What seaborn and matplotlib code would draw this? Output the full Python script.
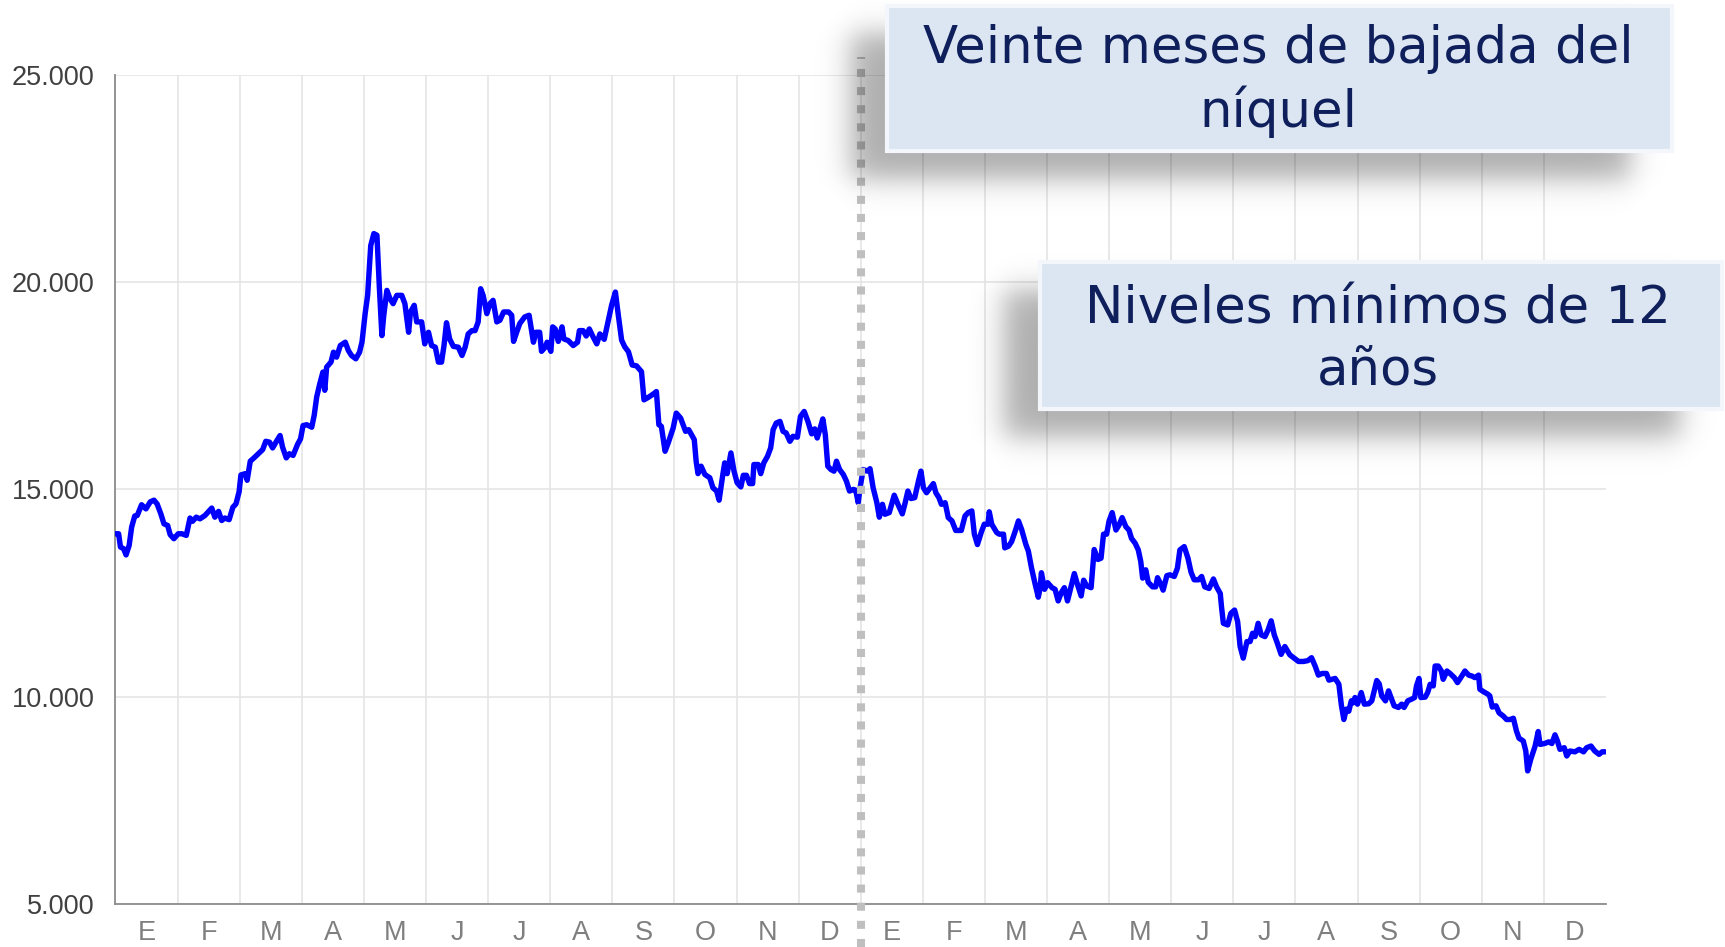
import numpy as np
import pandas as pd
import seaborn as sns
import matplotlib
matplotlib.use("Agg")
from matplotlib import pyplot as plt
from matplotlib.patches import Rectangle
from matplotlib.ticker import FuncFormatter, MultipleLocator, FixedLocator, NullFormatter

# posición en meses desde el inicio (0 = 1 de enero del primer año)
mes = [
    0.00, 0.05, 0.08, 0.13, 0.17, 0.22, 0.26, 0.31, 0.35, 0.42, 0.49, 0.56, 0.62, 0.67, 0.73, 0.78, 0.84, 0.88, 0.94,
    1.01, 1.07, 1.14, 1.20, 1.24, 1.30, 1.36, 1.44, 1.55, 1.60, 1.66, 1.71, 1.76, 1.83, 1.89, 1.94, 1.99,
    2.02, 2.09, 2.12, 2.17, 2.23, 2.30, 2.37, 2.42, 2.48, 2.53, 2.60, 2.65, 2.69, 2.75, 2.80, 2.86, 2.93, 2.98,
    3.02, 3.08, 3.16, 3.20, 3.24, 3.29, 3.34, 3.37, 3.40, 3.47, 3.51, 3.56, 3.62, 3.70, 3.75, 3.80, 3.87, 3.93, 3.97,
    4.02, 4.06, 4.11, 4.16, 4.21, 4.25, 4.29, 4.32, 4.37, 4.42, 4.47, 4.53, 4.61, 4.66, 4.72, 4.75, 4.81, 4.85, 4.93, 4.98,
    5.04, 5.09, 5.15, 5.20, 5.25, 5.29, 5.33, 5.38, 5.44, 5.52, 5.58, 5.63, 5.68, 5.74, 5.79, 5.84, 5.88, 5.92, 5.98,
    6.03, 6.08, 6.14, 6.19, 6.25, 6.33, 6.38, 6.41, 6.46, 6.51, 6.59, 6.66, 6.73, 6.77, 6.83, 6.86, 6.92, 6.95,
    7.01, 7.04, 7.08, 7.13, 7.19, 7.22, 7.29, 7.37, 7.44, 7.47, 7.53, 7.58, 7.63, 7.68, 7.75, 7.80, 7.87, 7.94, 7.99,
    8.05, 8.09, 8.15, 8.20, 8.26, 8.32, 8.39, 8.47, 8.51, 8.58, 8.66, 8.71, 8.75, 8.79, 8.85, 8.90, 8.98,
    9.03, 9.10, 9.18, 9.23, 9.32, 9.35, 9.38, 9.43, 9.49, 9.57, 9.62, 9.68, 9.72, 9.78, 9.81, 9.85, 9.91, 9.96,
    10.01, 10.07, 10.11, 10.16, 10.21, 10.26, 10.28, 10.35, 10.39, 10.44, 10.50, 10.55, 10.59, 10.64, 10.70, 10.75,
    10.80, 10.86, 10.91, 10.98,
    11.03, 11.09, 11.15, 11.21, 11.26, 11.30, 11.34, 11.39, 11.43, 11.47, 11.52, 11.57, 11.61, 11.66, 11.72, 11.77,
    11.82, 11.88, 11.92, 11.96, 11.99,
    12.04, 12.11, 12.15, 12.20, 12.26, 12.30, 12.35, 12.39, 12.46, 12.54, 12.60, 12.67, 12.71, 12.76, 12.81, 12.87,
    12.93, 12.97,
    13.01, 13.06, 13.12, 13.17, 13.21, 13.26, 13.30, 13.36, 13.41, 13.47, 13.53, 13.62, 13.68, 13.73, 13.79, 13.83,
    13.88, 13.94, 13.99,
    14.05, 14.07, 14.11, 14.19, 14.23, 14.30, 14.32, 14.38, 14.43, 14.49, 14.54, 14.59, 14.66, 14.70, 14.75, 14.81,
    14.86, 14.89, 14.91, 14.96,
    15.01, 15.08, 15.13, 15.18, 15.23, 15.28, 15.33, 15.39, 15.44, 15.49, 15.55, 15.59, 15.64, 15.71, 15.76, 15.82,
    15.87, 15.91, 15.96,
    16.00, 16.05, 16.11, 16.16, 16.21, 16.27, 16.32, 16.36, 16.42, 16.47, 16.51, 16.54, 16.59, 16.63, 16.70, 16.75,
    16.78, 16.84, 16.87, 16.93, 16.98,
    17.05, 17.10, 17.14, 17.21, 17.27, 17.32, 17.37, 17.44, 17.49, 17.54, 17.61, 17.68, 17.73, 17.79, 17.81, 17.84,
    17.91, 17.96,
    18.02, 18.07, 18.11, 18.16, 18.22, 18.27, 18.31, 18.35, 18.40, 18.45, 18.51, 18.56, 18.61, 18.66, 18.70, 18.77,
    18.83, 18.91, 18.97,
    19.05, 19.13, 19.20, 19.26, 19.32, 19.37, 19.43, 19.50, 19.54, 19.64, 19.70, 19.74, 19.78, 19.82, 19.86, 19.90,
    19.93, 19.96,
    20.00, 20.06, 20.11, 20.18, 20.23, 20.27, 20.31, 20.35, 20.39, 20.45, 20.50, 20.54, 20.59, 20.66, 20.71, 20.75,
    20.81, 20.87, 20.92, 20.95, 20.99,
    21.02, 21.09, 21.13, 21.17, 21.22, 21.25, 21.30, 21.35, 21.38, 21.44, 21.49, 21.56, 21.61, 21.68, 21.73, 21.79,
    21.84, 21.89, 21.95, 21.97,
    22.03, 22.10, 22.13, 22.17, 22.23, 22.28, 22.35, 22.40, 22.46, 22.51, 22.56, 22.60, 22.67, 22.71, 22.74, 22.79,
    22.86, 22.91, 22.94,
    23.01, 23.08, 23.13, 23.18, 23.22, 23.26, 23.33, 23.37, 23.42, 23.50, 23.57, 23.64, 23.69, 23.76, 23.82, 23.89,
    23.94, 23.99,
]

# precio del níquel ($/t)
precio = [
    13930, 13930, 13610, 13570, 13420, 13650, 14090, 14360, 14370, 14630, 14530, 14700, 14740, 14650, 14410, 14170,
    14130, 13910, 13810,
    13930, 13930, 13890, 14310, 14230, 14330, 14290, 14370, 14550, 14330, 14470, 14250, 14310, 14270, 14570, 14650, 14940,
    15350, 15380, 15220, 15680, 15760, 15860, 15960, 16160, 16140, 16000, 16180, 16300, 16020, 15760, 15860, 15820,
    16080, 16220,
    16540, 16560, 16500, 16790, 17230, 17550, 17830, 17390, 17950, 18070, 18310, 18190, 18470, 18550, 18350, 18230,
    18150, 18310, 18560,
    19240, 19680, 20880, 21170, 21130, 19840, 18710, 19200, 19800, 19600, 19480, 19680, 19680, 19480, 18790, 19280,
    19440, 19040, 19040, 18510,
    18790, 18470, 18430, 18070, 18070, 18470, 19020, 18630, 18450, 18430, 18230, 18430, 18750, 18830, 18830, 19040,
    19840, 19680, 19240,
    19480, 19560, 19040, 19080, 19280, 19280, 19200, 18570, 18790, 19000, 19160, 19200, 18550, 18790, 18790, 18330,
    18430, 18550,
    18330, 18920, 18870, 18570, 18920, 18630, 18590, 18470, 18550, 18830, 18830, 18700, 18870, 18710, 18510, 18750,
    18620, 19100, 19450,
    19760, 19280, 18600, 18440, 18320, 18000, 17980, 17840, 17160, 17220, 17300, 17360, 16560, 16520, 15920, 16120, 16480,
    16840, 16720, 16400, 16440, 16200, 15680, 15380, 15560, 15360, 15280, 15040, 14960, 14740, 15360, 15640, 15380,
    15880, 15440,
    15160, 15060, 15340, 15340, 15140, 15140, 15600, 15600, 15380, 15640, 15800, 16000, 16440, 16600, 16640, 16400,
    16360, 16160, 16280, 16260,
    16760, 16880, 16640, 16340, 16460, 16240, 16440, 16700, 16320, 15560, 15480, 15440, 15680, 15480, 15360, 15200,
    14960, 15000, 14980, 14680, 15040,
    15480, 15440, 15500, 15040, 14680, 14330, 14640, 14400, 14440, 14860, 14640, 14410, 14640, 14960, 14780, 14800,
    15200, 15440,
    15040, 14920, 15040, 15140, 14920, 14800, 14640, 14680, 14320, 14240, 14010, 14010, 14360, 14440, 14480, 13920,
    13670, 13960, 14160,
    14160, 14460, 14160, 13960, 13920, 13920, 13590, 13630, 13740, 14000, 14240, 14040, 13670, 13510, 13110, 12710,
    12400, 12630, 12990, 12590,
    12750, 12630, 12590, 12310, 12510, 12630, 12310, 12670, 12970, 12710, 12430, 12810, 12670, 12630, 13550, 13310,
    13340, 13920, 13920,
    14240, 14440, 14020, 14140, 14320, 14100, 14020, 13820, 13700, 13540, 13260, 12860, 13060, 12760, 12650, 12650,
    12870, 12690, 12570, 12920, 12940,
    12900, 13100, 13540, 13620, 13340, 13000, 12820, 12820, 12900, 12650, 12610, 12840, 12650, 12490, 12170, 11770,
    11730, 12010,
    12090, 11810, 11210, 10930, 11330, 11330, 11530, 11450, 11770, 11490, 11450, 11610, 11830, 11490, 11330, 11020,
    11210, 11010, 10940,
    10850, 10850, 10870, 10940, 10730, 10520, 10560, 10560, 10400, 10440, 10300, 9800, 9450, 9700, 9650, 9900,
    9850, 9980,
    9820, 10100, 9820, 9830, 9900, 10140, 10390, 10310, 10020, 9900, 10140, 9980, 9780, 9740, 9820, 9740,
    9900, 9940, 9980, 10260, 10440,
    9980, 9990, 10100, 10300, 10260, 10740, 10740, 10620, 10420, 10620, 10560, 10460, 10340, 10500, 10620, 10520,
    10500, 10460, 10520, 10180,
    10120, 10060, 10020, 9750, 9780, 9610, 9530, 9450, 9450, 9480, 9170, 9000, 8930, 8690, 8210, 8490,
    8810, 9160, 8850,
    8870, 8910, 8870, 9080, 8930, 8730, 8770, 8570, 8690, 8670, 8730, 8670, 8770, 8810, 8690, 8610,
    8670, 8670,
]

meses = ['E', 'F', 'M', 'A', 'M', 'J', 'J', 'A', 'S', 'O', 'N', 'D'] * 2
notas = ['Veinte meses de bajada del\nníquel', 'Niveles mínimos de 12\naños']

W, H = 1725, 947

sns.set_theme(style='white')
plt.rcParams['font.family'] = ['Liberation Sans', 'DejaVu Sans']

fig = plt.figure(figsize=(W / 100, H / 100), dpi=100)
ax = fig.add_axes([115.5 / W, 43 / H, 1490.4 / W, 829.2 / H])

df = pd.DataFrame({'mes': mes, 'precio': precio})
sns.lineplot(data=df, x='mes', y='precio', ax=ax, color='#0000FF', linewidth=3.9,
             estimator=None, sort=False, zorder=3, solid_joinstyle='round')

ax.set_xlim(0, 24)
ax.set_ylim(5000, 25000)
ax.set_xlabel('')
ax.set_ylabel('')

# meses: marcas en los límites, etiquetas en el centro
ax.xaxis.set_major_locator(FixedLocator(list(range(24))))
ax.xaxis.set_major_formatter(NullFormatter())
ax.set_xticks(np.arange(24) + 0.5, minor=True)
ax.set_xticklabels(meses, minor=True)
ax.tick_params(axis='x', which='major', direction='inout', length=15, width=1.2, color='#8C8C8C')
ax.tick_params(axis='x', which='minor', length=0, pad=11.5, labelsize=19.5, labelcolor='#7F7F7F')
for t in ax.get_xticklabels(minor=True):
    t.set_fontfamily(['Liberation Sans Narrow', 'Liberation Sans'])

ax.yaxis.set_major_locator(MultipleLocator(5000))
ax.yaxis.set_major_formatter(FuncFormatter(lambda v, p: f'{v:,.0f}'.replace(',', '.')))
ax.tick_params(axis='y', direction='out', length=6, width=1.2, color='#8C8C8C',
               labelsize=19.5, labelcolor='#404040', pad=9)

ax.grid(True, which='major', color='#E3E3E3', lw=1.1)
ax.set_axisbelow(True)
for s in ['top', 'right']:
    ax.spines[s].set_visible(False)
for s in ['left', 'bottom']:
    ax.spines[s].set_color('#8C8C8C')
    ax.spines[s].set_linewidth(1.3)

# separación entre los dos años
ax.axvline(12, ymin=-0.052, ymax=1.022, color='#BFBFBF', lw=5.8, linestyle=(0, (1, 1.25)),
           dash_capstyle='butt', clip_on=False, zorder=4)

# capa de notas en píxeles
ov = fig.add_axes([0, 0, 1, 1], zorder=10)
ov.patch.set_alpha(0)

cajas = [(887, 5.5, 1672, 151), (1040, 262, 1722, 409)]
centros = [(1278, 81), (1378, 340)]
xx = np.arange(W) + 0.5
yy = np.arange(H) + 0.5


def rampa(t, w=17.0):
    return 0.5 * (1 + np.tanh(t / w))


alpha = np.zeros((H, W))
for x0, y0, x1, y1 in cajas:
    sx0, sy0, sx1, sy1 = x0 - 36, y0 + 28, x1 - 42, y1 + 28
    a = np.outer(rampa(yy - sy0) * rampa(sy1 - yy), rampa(xx - sx0) * rampa(sx1 - xx))
    alpha = 1 - (1 - alpha) * (1 - a)
img = np.zeros((H, W, 4))
img[..., 3] = alpha * 0.32
ov.imshow(img, extent=(0, W, H, 0), interpolation='bilinear', aspect='auto', zorder=1)

for (x0, y0, x1, y1), (cx, cy), nota in zip(cajas, centros, notas):
    ov.add_patch(Rectangle((x0, y0), x1 - x0, y1 - y0, facecolor='#DCE6F2',
                           edgecolor='#F3F6FB', lw=3, zorder=2))
    ov.text(cx, cy, nota, ha='center', va='center', multialignment='center',
            fontsize=37, color='#0E1F5B', family=['DejaVu Sans'], linespacing=1.28, zorder=3)

ov.set_xlim(0, W)
ov.set_ylim(H, 0)
ov.set_axis_off()

fig.savefig('out.png', dpi=100)
